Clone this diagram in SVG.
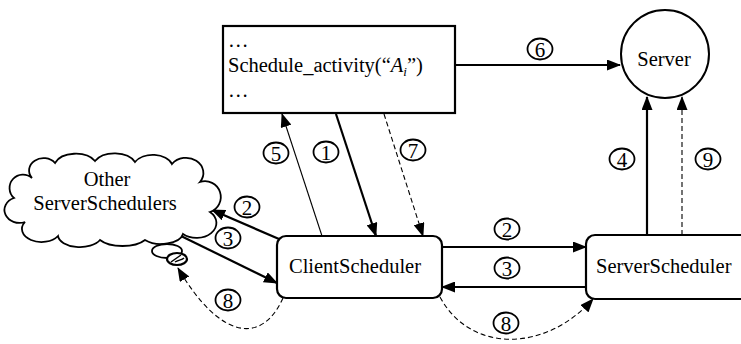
<svg xmlns="http://www.w3.org/2000/svg" width="741" height="344" viewBox="0 0 741 344" font-family="Liberation Serif, Times New Roman, DejaVu Serif, serif" font-size="20.5">
<defs>
<style>
text{font-family:Liberation Serif, Times New Roman, serif;font-size:20.5px;fill:#000}
.n{text-anchor:middle;font-size:21px}
.box{fill:#fff;stroke:#000;stroke-width:2.2}
.lab{fill:#fff;stroke:#000;stroke-width:1.8}
.thick{stroke:#000;stroke-width:2.2;fill:none}
.thin{stroke:#000;stroke-width:1.1;fill:none}
.dash{stroke:#000;stroke-width:1.1;fill:none;stroke-dasharray:5,3}
</style>
<marker id="ah" markerWidth="14" markerHeight="11" refX="13" refY="5.5" orient="auto" markerUnits="userSpaceOnUse">
<path d="M0,0 L14,5.5 L0,11 Z" fill="#000"/>
</marker>
</defs>
<rect width="741" height="344" fill="#fff"/>

<g id="connectors">
<line class="thick" x1="455" y1="65" x2="620" y2="65" marker-end="url(#ah)"/>
<line class="thick" x1="647" y1="235" x2="647" y2="97" marker-end="url(#ah)"/>
<line class="dash" x1="682" y1="235" x2="682" y2="97" marker-end="url(#ah)"/>
<line class="thin" x1="322" y1="236" x2="282" y2="114" marker-end="url(#ah)"/>
<line class="thick" x1="336" y1="114" x2="376" y2="236" marker-end="url(#ah)"/>
<line class="dash" x1="384" y1="114" x2="423" y2="236" marker-end="url(#ah)"/>
<line class="thick" x1="279" y1="239" x2="212" y2="210" marker-end="url(#ah)"/>
<line class="thick" x1="181" y1="236" x2="277" y2="283" marker-end="url(#ah)"/>
<line class="thick" x1="442" y1="247" x2="586" y2="247" marker-end="url(#ah)"/>
<line class="thick" x1="586" y1="287" x2="442" y2="287" marker-end="url(#ah)"/>
<path class="dash" d="M283,298 C262,345 220,340 178,268" marker-end="url(#ah)"/>
<path class="dash" d="M440,297 C470,353 545,353 593,299" marker-end="url(#ah)"/>
</g>

<g id="code">
<rect class="box" x="223" y="26" width="232" height="87"/>
<text x="228" y="47">…</text>
<text x="228" y="72">Schedule_activity(“<tspan font-style="italic">A</tspan><tspan font-style="italic" font-size="13" dy="4">i</tspan><tspan dy="-4">”)</tspan></text>
<text x="228" y="97">…</text>
</g>

<g id="server">
<circle cx="665" cy="54" r="44" fill="#fff" stroke="#000" stroke-width="2"/>
<text x="664" y="66" text-anchor="middle">Server</text>
</g>

<g id="clientScheduler">
<rect class="box" x="277" y="236" width="165" height="62" rx="9"/>
<text x="355" y="273" text-anchor="middle">ClientScheduler</text>
</g>

<g id="serverScheduler">
<rect class="box" x="586" y="235" width="170" height="64" rx="9"/>
<text x="596" y="273">ServerScheduler</text>
</g>

<g id="otherServerSchedulers">
<path fill="#fff" stroke="#000" stroke-width="1.8" d="M32,178 A14,12 0 0 1 55,163 A22,14 0 0 1 95,161 A22,14 0 0 1 135,162 A20,13 0 0 1 172,164 A16,14 0 0 1 200,182 A14,14 0 0 1 210,212 A16,12 0 0 1 183,234 A22,12 0 0 1 145,240 A26,12 0 0 1 100,240 A22,12 0 0 1 58,236 A18,12 0 0 1 25,222 A14,12 0 0 1 14,198 A12,12 0 0 1 32,178 Z"/>
<text x="107" y="186" text-anchor="middle">Other</text>
<text x="105" y="210" text-anchor="middle">ServerSchedulers</text>
<ellipse cx="167" cy="251" rx="15" ry="7" fill="#fff" stroke="#000" stroke-width="1.8"/>
<ellipse cx="177" cy="259" rx="10" ry="6" fill="#fff" stroke="#000" stroke-width="2.2"/>
<path d="M171,262 L181,255 M175,262 C178,260 182,260 184,258" stroke="#000" stroke-width="1.5" fill="none"/>
</g>

<g id="labels" text-anchor="middle">
<ellipse class="lab" cx="540" cy="49" rx="12.5" ry="10.5"/><text class="n" x="540" y="56.5">6</text>
<ellipse class="lab" cx="622" cy="159" rx="12.5" ry="10.5"/><text class="n" x="622" y="166.5">4</text>
<ellipse class="lab" cx="708" cy="159" rx="12.5" ry="10.5"/><text class="n" x="708" y="166.5">9</text>
<ellipse class="lab" cx="276" cy="153" rx="12.5" ry="10.5"/><text class="n" x="276" y="160.5">5</text>
<ellipse class="lab" cx="326" cy="152" rx="12.5" ry="10.5"/><text class="n" x="326" y="159.5">1</text>
<ellipse class="lab" cx="413" cy="150" rx="12.5" ry="10.5"/><text class="n" x="413" y="157.5">7</text>
<ellipse class="lab" cx="247" cy="207" rx="12.5" ry="10.5"/><text class="n" x="247" y="214.5">2</text>
<ellipse class="lab" cx="228" cy="238" rx="12.5" ry="10.5"/><text class="n" x="228" y="245.5">3</text>
<ellipse class="lab" cx="507" cy="229" rx="12.5" ry="10.5"/><text class="n" x="507" y="236.5">2</text>
<ellipse class="lab" cx="507" cy="268" rx="12.5" ry="10.5"/><text class="n" x="507" y="275.5">3</text>
<ellipse class="lab" cx="228" cy="300" rx="12.5" ry="10.5"/><text class="n" x="228" y="307.5">8</text>
<ellipse class="lab" cx="506" cy="323" rx="12.5" ry="10.5"/><text class="n" x="506" y="330.5">8</text>
</g>
</svg>
